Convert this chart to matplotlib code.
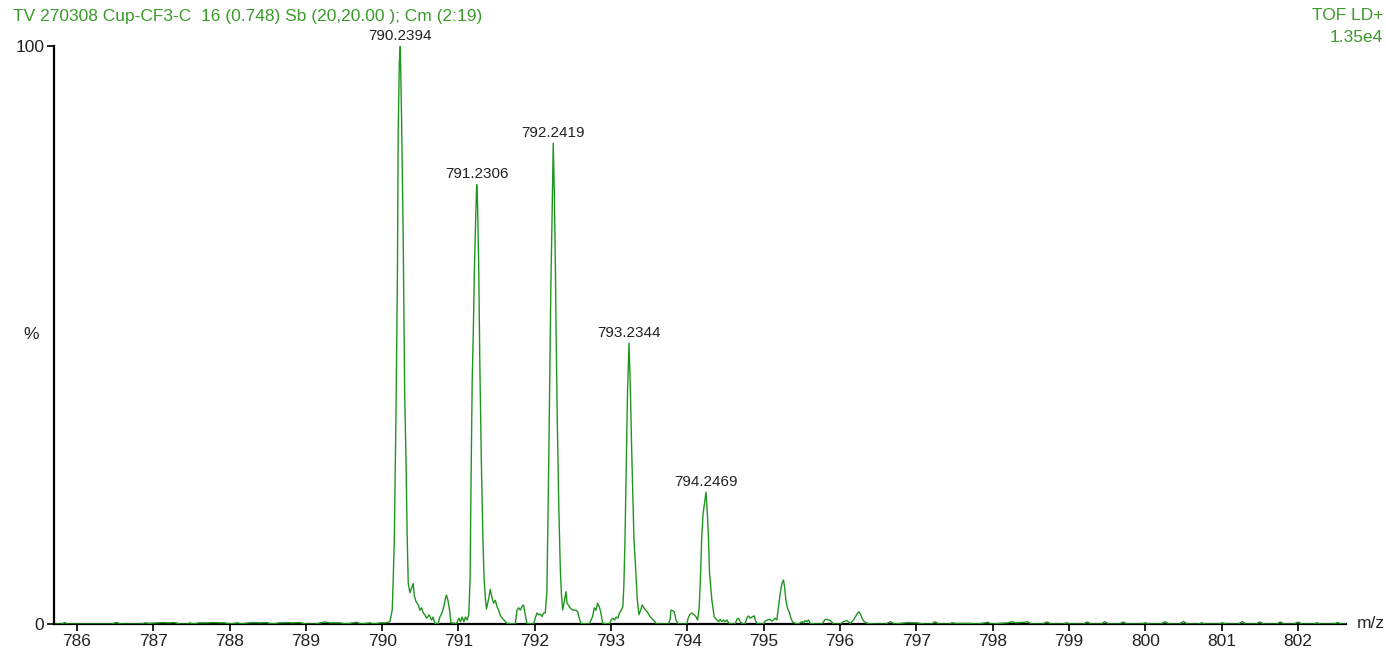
import numpy as np
import matplotlib
matplotlib.use('Agg')
import matplotlib.pyplot as plt

plt.rcParams['font.family'] = ['Liberation Sans', 'DejaVu Sans']

# spectrum profile (m/z, % intensity)
mz_left = [785.70, 785.80, 785.84, 785.88, 786.45, 786.52, 786.58, 786.85, 786.89, 786.95,
           787.05, 787.12, 787.20, 787.28, 787.35, 787.45, 787.48, 787.52, 787.60, 787.70,
           787.80, 787.88, 787.94, 788.00, 788.11, 788.15, 788.25, 788.32, 788.40, 788.49,
           788.55, 788.65, 788.75, 788.82, 788.92, 789.00, 789.12, 789.25, 789.32, 789.40,
           789.45, 789.52, 789.67, 789.72, 789.84, 789.90, 789.97, 790.05, 790.10]
int_left = [0, 0, 0.25, 0, 0, 0.25, 0, 0, 0.2, 0.1,
            0.2, 0.25, 0.2, 0.25, 0, 0, 0.2, 0, 0.2, 0.2,
            0.25, 0.2, 0.2, 0, 0.2, 0, 0.2, 0.25, 0.2, 0.25,
            0, 0.2, 0.25, 0.2, 0.25, 0, 0, 0.35, 0.2, 0.2,
            0.2, 0, 0.3, 0, 0.2, 0, 0.2, 0.2, 0.4]

mz_p1 = [790.132, 790.145, 790.160, 790.180, 790.200, 790.210, 790.225, 790.238, 790.255, 790.275,
         790.295, 790.310, 790.329, 790.342, 790.364, 790.386, 790.407, 790.420, 790.443, 790.473,
         790.495, 790.517, 790.538, 790.560, 790.582, 790.616, 790.647, 790.668, 790.690, 790.734,
         790.756, 790.786, 790.808, 790.830, 790.843, 790.865, 790.887, 790.900, 790.975, 791.005,
         791.027, 791.048, 791.070, 791.092, 791.113, 791.135]
int_p1 = [2.4, 7.6, 15, 35, 60, 85, 97, 100, 87, 68,
          40, 30, 14.5, 7, 5.4, 6.2, 7, 5, 3.9, 3.3,
          2.4, 2.8, 1.9, 1.6, 1.0, 1.6, 0.7, 1.2, 0.1, 0.1,
          1.2, 2, 3, 4.5, 5, 3.9, 2.1, 0.2, 0.1, 1.0,
          0.4, 1.2, 0.4, 1.2, 0.7, 1.6]

mz_p2 = [791.152, 791.165, 791.180, 791.195, 791.210, 791.225, 791.239, 791.250, 791.265, 791.280,
         791.300, 791.320, 791.335, 791.355, 791.367, 791.397, 791.417, 791.440, 791.460, 791.483,
         791.505, 791.527, 791.550, 791.590, 791.635, 791.745, 791.767, 791.788, 791.810, 791.832,
         791.853, 791.875, 791.897, 791.984, 792.006, 792.028, 792.050, 792.071, 792.093, 792.115,
         792.137]
int_p2 = [7.6, 25, 42, 51, 62, 70, 76, 73, 62, 45,
          28, 15, 8, 4, 2.6, 4.5, 6, 4.5, 3.6, 4.1,
          3, 2.4, 1.4, 0.8, 0.1, 0, 2.4, 2.8, 2.4, 3,
          3.3, 1.6, 0.1, 0, 1.0, 1.9, 1.6, 1.7, 1.3, 1.9,
          1.9]

mz_p3 = [792.159, 792.169, 792.185, 792.199, 792.210, 792.226, 792.242, 792.256, 792.270, 792.278,
         792.295, 792.315, 792.335, 792.350, 792.365, 792.387, 792.409, 792.422, 792.440, 792.462,
         792.496, 792.540, 792.562, 792.583, 792.605, 792.714, 792.758, 792.780, 792.802, 792.823,
         792.845, 792.867, 792.889, 792.980, 793.000, 793.020, 793.045, 793.067, 793.088, 793.110,
         793.132, 793.154]
int_p3 = [5.6, 14.5, 30, 45, 58, 70, 83.2, 74.6, 62, 52,
          35, 20, 9.3, 5, 2.4, 3.9, 5.6, 3.6, 3.3, 2.8,
          2.4, 2.4, 2.1, 1.0, 0.1, 0, 1.3, 2.8, 2.4, 3.6,
          3, 1.9, 0.1, 0, 0.7, 1.0, 0.7, 1.2, 1.0, 1.9,
          2.4, 3]

mz_p4 = [793.167, 793.182, 793.200, 793.215, 793.235, 793.250, 793.270, 793.300, 793.325, 793.343,
         793.365, 793.387, 793.408, 793.430, 793.453, 793.474, 793.510, 793.553, 793.597, 793.750,
         793.772, 793.785, 793.807, 793.828, 793.850, 793.880, 793.990, 794.010, 794.030, 794.055,
         794.077, 794.110, 794.134, 794.155, 794.173]
int_p4 = [6.5, 14.5, 28, 40, 48.6, 42, 30, 14.5, 8.8, 4.2,
          1.6, 2.4, 3.3, 2.8, 2.4, 2.1, 1.3, 0.7, 0, 0,
          0.7, 2.4, 2.3, 2.1, 0.7, 0, 0, 1.0, 1.6, 1.9,
          1.7, 1.3, 0.7, 3, 8.8]

mz_p5 = [794.186, 794.205, 794.244, 794.262, 794.277, 794.290, 794.320, 794.350, 794.386, 794.408,
         794.430, 794.452, 794.473, 794.495, 794.517, 794.539, 794.582, 794.626, 794.648, 794.670,
         794.692, 794.713, 794.757, 794.779, 794.800, 794.822, 794.857, 794.875, 794.897, 794.918,
         794.997, 795.019, 795.050, 795.085, 795.107, 795.128, 795.150, 795.172, 795.194, 795.216,
         795.238, 795.259, 795.272, 795.290, 795.312, 795.334, 795.356, 795.377, 795.413, 795.456,
         795.500, 795.522, 795.543, 795.565, 795.587, 795.609, 795.674, 795.762, 795.806, 795.836,
         795.872, 795.915, 796.003, 796.046, 796.090, 796.134, 796.178, 796.221, 796.243, 796.265,
         796.287, 796.317, 796.360]
int_p5 = [14.5, 19, 22.8, 19, 14.5, 8.8, 4.2, 1.3, 0.7, 0.4,
          0.8, 0.4, 0.7, 0.4, 0.7, 0.2, 0, 0, 0.8, 1.0,
          0.4, 0.1, 0.1, 1.0, 1.4, 1.0, 1.3, 1.4, 0.4, 0,
          0, 0.5, 0.7, 0.8, 0.5, 0.7, 1.0, 0.7, 3, 5.3,
          7, 7.6, 6.5, 4.2, 2.7, 2.1, 1.0, 0.4, 0.1, 0,
          0.4, 0.2, 0.6, 0.4, 0.7, 0.1, 0, 0, 0.8, 0.8,
          0.6, 0, 0, 0.4, 0.6, 0.1, 0.7, 1.7, 2.1, 1.8,
          1.0, 0.4, 0.1]

mz_right = [796.45, 796.60, 796.66, 796.72, 796.85, 796.89, 796.95, 797.00, 797.10, 797.20,
            797.24, 797.30, 797.42, 797.47, 797.52, 797.60, 797.70, 797.80, 797.90, 797.94,
            797.98, 798.20, 798.25, 798.30, 798.42, 798.46, 798.50, 798.65, 798.71, 798.77,
            798.92, 798.97, 799.02, 799.19, 799.24, 799.29, 799.42, 799.47, 799.52, 799.66,
            799.71, 799.76, 799.95, 800.00, 800.05, 800.20, 800.26, 800.31, 800.45, 800.50,
            800.55, 800.70, 800.74, 800.78, 800.96, 801.01, 801.06, 801.22, 801.27, 801.32,
            801.45, 801.50, 801.55, 801.72, 801.77, 801.82, 801.95, 802.00, 802.05, 802.20,
            802.25, 802.30, 802.47, 802.52, 802.57, 802.63]
int_right = [0, 0, 0.4, 0, 0.2, 0.25, 0.2, 0.2, 0, 0,
             0.4, 0, 0, 0.2, 0.1, 0.1, 0.1, 0, 0.2, 0.3,
             0, 0.2, 0.4, 0.2, 0.3, 0.4, 0, 0, 0.35, 0,
             0, 0.2, 0, 0, 0.35, 0, 0, 0.4, 0, 0,
             0.35, 0, 0, 0.2, 0, 0, 0.4, 0, 0, 0.45,
             0, 0, 0.2, 0, 0, 0.2, 0, 0, 0.4, 0,
             0, 0.35, 0, 0, 0.35, 0, 0, 0.35, 0, 0,
             0.2, 0, 0, 0.25, 0, 0]

# labelled peaks
peak_mz = [790.238, 791.239, 792.242, 793.235, 794.244]
peak_int = [100, 76, 83.2, 48.6, 22.8]
peak_labels = ['790.2394', '791.2306', '792.2419', '793.2344', '794.2469']

title_text = 'TV 270308 Cup-CF3-C  16 (0.748) Sb (20,20.00 ); Cm (2:19)'
mode_text = 'TOF LD+'
scale_text = '1.35e4'

mz = np.array(mz_left + mz_p1 + mz_p2 + mz_p3 + mz_p4 + mz_p5 + mz_right)
inten = np.array(int_left + int_p1 + int_p2 + int_p3 + int_p4 + int_p5 + int_right)

green = '#1e961e'
txt_green = '#3a9a2a'
dark = '#222222'

fig = plt.figure(figsize=(13.86, 6.56), dpi=100)
ax = fig.add_axes([54/1386, 1 - 624/656, (1346 - 54)/1386, (624 - 46)/656])

ax.plot(mz, inten, color=green, lw=1.0)

ax.set_xlim(785.70, 802.63)
ax.set_ylim(0, 100)
ax.set_xticks(range(786, 803))
ax.set_yticks([0, 100])
ax.set_yticklabels(['0', '100'])
ax.tick_params(axis='both', direction='out', length=5, width=1.2, labelsize=12.5,
               labelcolor=dark, pad=2)
for s in ['top', 'right']:
    ax.spines[s].set_visible(False)
for s in ['left', 'bottom']:
    ax.spines[s].set_linewidth(1.6)
ax.spines['bottom'].set_zorder(0)

# y label and x unit
fig.text(31/1386, 1 - 335/656, '%', fontsize=12.5, color=dark, ha='center', va='center')
ax.text(1.008, 0.0, 'm/z', transform=ax.transAxes, fontsize=12.5, color=dark,
        ha='left', va='center')

for x, y, lab in zip(peak_mz, peak_int, peak_labels):
    ax.annotate(lab, (x, y), xytext=(0, 2.5), textcoords='offset points',
                ha='center', va='bottom', fontsize=11, color=dark)

fig.text(13/1386, 1 - 17/656, title_text, fontsize=12.5, color=txt_green, ha='left', va='center')
fig.text(1383/1386, 1 - 16/656, mode_text, fontsize=12.5, color=txt_green, ha='right', va='center')
fig.text(1383/1386, 1 - 37/656, scale_text, fontsize=12.5, color=txt_green, ha='right', va='center')

fig.savefig('out.png', dpi=100)
